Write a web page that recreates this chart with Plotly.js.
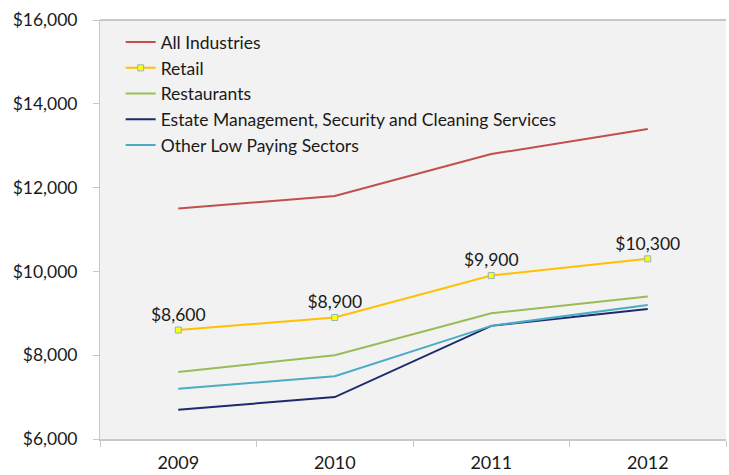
<!DOCTYPE html>
<html>
<head>
<meta charset="utf-8">
<script src="https://cdn.plot.ly/plotly-3.0.1.min.js"></script>
<style>html,body{margin:0;padding:0;background:#fff;}#chart{width:729px;height:475px;}</style>
</head>
<body>
<div id="chart"></div>
<script>
const years = ["2009", "2010", "2011", "2012"];
const allIndustries = [11500, 11800, 12800, 13400];
const retail = [8600, 8900, 9900, 10300];
const restaurants = [7600, 8000, 9000, 9400];
const estateMgmt = [6700, 7000, 8700, 9100];
const otherLowPaying = [7200, 7500, 8700, 9200];
const yTicks = [6000, 8000, 10000, 12000, 14000, 16000];
const yTickText = ["$6,000", "$8,000", "$10,000", "$12,000", "$14,000", "$16,000"];

const fmt = v => "$" + v.toLocaleString("en-US");
const font = "Lato, 'Open Sans', sans-serif";

const traces = [
  {name: "All Industries", x: years, y: allIndustries, mode: "lines",
   line: {color: "#c0504d", width: 2}},
  {name: "Retail", x: years, y: retail, mode: "lines+markers+text",
   line: {color: "#ffc000", width: 2},
   marker: {symbol: "square", size: 6, color: "#ffff00", line: {color: "#8eb4c8", width: 1}},
   text: retail.map(fmt), textposition: "top center",
   textfont: {family: font, size: 17.5, color: "#1a1a1a"}},
  {name: "Restaurants", x: years, y: restaurants, mode: "lines",
   line: {color: "#9bbb59", width: 2}},
  {name: "Estate Management, Security and Cleaning Services", x: years, y: estateMgmt, mode: "lines",
   line: {color: "#1f2a6b", width: 2}},
  {name: "Other Low Paying Sectors", x: years, y: otherLowPaying, mode: "lines",
   line: {color: "#4bacc6", width: 2}}
];

const layout = {
  width: 729, height: 475,
  margin: {l: 100, r: 3, t: 20, b: 36},
  paper_bgcolor: "#ffffff",
  plot_bgcolor: "#f2f2f2",
  font: {family: font, size: 17, color: "#1a1a1a"},
  showlegend: true,
  legend: {x: 0.033, y: 0.99, xanchor: "left", yanchor: "top",
           bgcolor: "rgba(0,0,0,0)", font: {family: font, size: 17.5, color: "#1a1a1a"},
           tracegroupgap: 0, itemwidth: 30},
  xaxis: {type: "category", range: [-0.5, 3.5], tickson: "boundaries", ticks: "outside", ticklen: 6,
          tickcolor: "#c8c8c8", showline: true, linecolor: "#c8c8c8", linewidth: 2,
          ticklabelstandoff: 6,
          showgrid: false, zeroline: false, tickfont: {family: font, size: 18, color: "#1a1a1a"}},
  yaxis: {range: [6000, 16000], tickvals: yTicks, ticktext: yTickText, ticks: "outside",
          ticklen: 6, tickcolor: "#c8c8c8", showline: true, linecolor: "#c8c8c8", linewidth: 1,
          ticklabelstandoff: 12,
          showgrid: false, zeroline: false, tickfont: {family: font, size: 17.5, color: "#1a1a1a"}},
  shapes: [{type: "line", xref: "paper", yref: "paper", x0: 0, x1: 1, y0: 1, y1: 1,
            line: {color: "#c8c8c8", width: 2}}]
};

Plotly.newPlot("chart", traces, layout, {displayModeBar: false, staticPlot: true});
</script>
</body>
</html>
